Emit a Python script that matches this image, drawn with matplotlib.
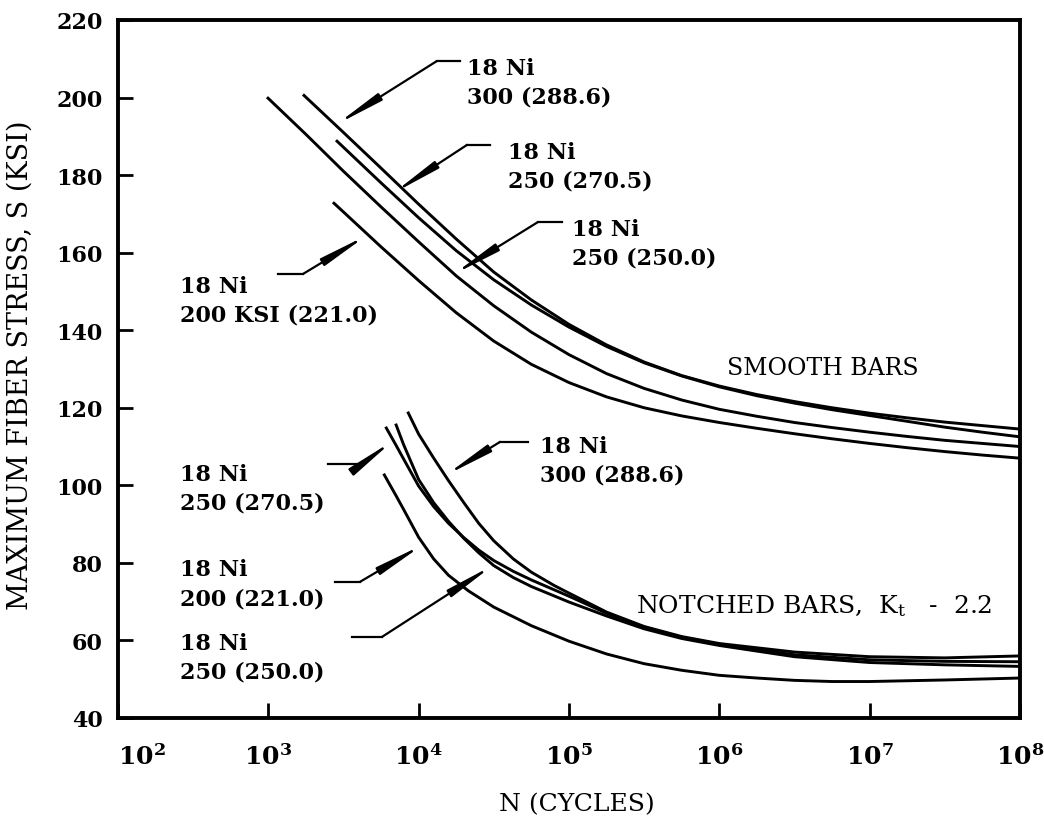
import matplotlib
matplotlib.use('Agg')
import matplotlib.pyplot as plt
from matplotlib.ticker import NullLocator

plt.rcParams['font.family'] = 'DejaVu Serif'
plt.rcParams['mathtext.fontset'] = 'dejavuserif'

# smooth bars, S-N curves (N cycles, S ksi)
n_s300 = [1.70e3, 3.16e3, 5.62e3, 1.0e4, 1.78e4, 3.16e4, 5.62e4, 1.0e5, 1.78e5, 3.16e5,
          5.62e5, 1.0e6, 1.78e6, 3.16e6, 5.62e6, 1.0e7, 1.78e7, 3.16e7, 5.62e7, 1.0e8]
s_s300 = [200.8, 191.0, 181.8, 172.5, 163.5, 155.0, 147.8, 141.5, 136.2, 131.8,
          128.3, 125.6, 123.4, 121.6, 120.0, 118.6, 117.4, 116.3, 115.4, 114.5]

n_s270 = [2.82e3, 5.62e3, 1.0e4, 1.78e4, 3.16e4, 5.62e4, 1.0e5, 1.78e5, 3.16e5, 5.62e5,
          1.0e6, 1.78e6, 3.16e6, 5.62e6, 1.0e7, 1.78e7, 3.16e7, 5.62e7, 1.0e8]
s_s270 = [189.0, 178.0, 169.0, 160.5, 153.0, 146.5, 140.8, 135.8, 131.6, 128.2,
          125.4, 123.1, 121.2, 119.5, 118.0, 116.5, 115.0, 113.7, 112.5]

n_s250 = [9.8e2, 1.78e3, 3.16e3, 5.62e3, 1.0e4, 1.78e4, 3.16e4, 5.62e4, 1.0e5, 1.78e5, 3.16e5,
          5.62e5, 1.0e6, 1.78e6, 3.16e6, 5.62e6, 1.0e7, 1.78e7, 3.16e7, 5.62e7, 1.0e8]
s_s250 = [200.1, 190.5, 181.0, 171.8, 162.8, 154.0, 146.3, 139.5, 133.7, 128.8, 125.0,
          122.0, 119.6, 117.8, 116.2, 114.9, 113.7, 112.6, 111.6, 110.8, 110.0]

n_s200 = [2.69e3, 3.16e3, 5.62e3, 1.0e4, 1.78e4, 3.16e4, 5.62e4, 1.0e5, 1.78e5, 3.16e5,
          5.62e5, 1.0e6, 1.78e6, 3.16e6, 5.62e6, 1.0e7, 1.78e7, 3.16e7, 5.62e7, 1.0e8]
s_s200 = [173.0, 170.5, 161.5, 152.8, 144.5, 137.2, 131.2, 126.5, 122.8, 120.0,
          117.9, 116.2, 114.7, 113.3, 112.0, 110.8, 109.7, 108.7, 107.8, 107.0]

# notched bars
n_n300 = [8.45e3, 1.0e4, 1.26e4, 1.58e4, 2.0e4, 2.51e4, 3.16e4, 4.27e4, 5.62e4, 7.94e4,
          1.0e5, 1.78e5, 3.16e5, 5.62e5, 1.0e6, 3.16e6, 1.0e7, 3.16e7, 1.0e8]
s_n300 = [119.0, 113.2, 107.0, 101.2, 95.5, 90.2, 85.7, 81.0, 77.6, 74.2,
          72.2, 67.3, 63.6, 61.0, 59.2, 57.0, 55.8, 55.5, 56.0]

n_n270 = [6.03e3, 7.08e3, 7.94e3, 1.0e4, 1.26e4, 1.58e4, 2.0e4, 2.51e4, 3.16e4, 4.27e4,
          5.62e4, 1.0e5, 1.78e5, 3.16e5, 5.62e5, 1.0e6, 3.16e6, 1.0e7, 3.16e7, 1.0e8]
s_n270 = [115.1, 110.3, 106.8, 99.8, 94.5, 90.2, 86.5, 83.3, 80.6, 77.8,
          75.6, 71.4, 67.0, 63.4, 60.8, 59.0, 56.3, 55.0, 54.6, 54.5]

n_n250 = [7.03e3, 7.94e3, 1.0e4, 1.26e4, 1.58e4, 2.0e4, 2.51e4, 3.16e4, 4.27e4, 5.62e4,
          1.0e5, 1.78e5, 3.16e5, 5.62e5, 1.0e6, 3.16e6, 1.0e7, 3.16e7, 1.0e8]
s_n250 = [115.9, 110.5, 101.5, 95.5, 90.7, 86.3, 82.6, 79.3, 76.2, 73.9,
          69.9, 66.3, 63.0, 60.5, 58.7, 55.8, 54.3, 53.7, 53.3]

n_n200 = [5.85e3, 7.08e3, 7.94e3, 1.0e4, 1.26e4, 1.58e4, 2.14e4, 3.16e4, 5.62e4, 1.0e5,
          1.78e5, 3.16e5, 5.62e5, 1.0e6, 1.78e6, 3.16e6, 5.62e6, 1.0e7, 3.16e7, 1.0e8]
s_n200 = [103.0, 97.3, 93.8, 86.6, 81.0, 76.8, 72.8, 68.6, 63.8, 59.8,
          56.5, 54.0, 52.3, 51.0, 50.3, 49.7, 49.4, 49.4, 49.8, 50.3]

x_ticks = [1e2, 1e3, 1e4, 1e5, 1e6, 1e7, 1e8]
x_labels = [r'$\mathbf{10^{2}}$', r'$\mathbf{10^{3}}$', r'$\mathbf{10^{4}}$', r'$\mathbf{10^{5}}$',
            r'$\mathbf{10^{6}}$', r'$\mathbf{10^{7}}$', r'$\mathbf{10^{8}}$']
y_ticks = [40, 60, 80, 100, 120, 140, 160, 180, 200, 220]

# label text, text position, leader start, elbow, arrow tip
notes = [
    ('18 Ni\n300 (288.6)', (2.1e4, 204.0), (1.88e4, 209.4), (1.32e4, 209.4), (2.82e3, 193.0)),
    ('18 Ni\n250 (270.5)', (3.94e4, 182.3), (2.99e4, 187.8), (2.1e4, 187.8), (6.76e3, 175.3)),
    ('18 Ni\n250 (250.0)', (1.05e5, 162.5), (9.0e4, 167.9), (6.22e4, 167.9), (1.69e4, 154.3)),
    ('18 Ni\n200 KSI (221.0)', (2.59e2, 147.7), (1.16e3, 154.5), (1.70e3, 154.5), (4.54e3, 164.5)),
    ('18 Ni\n250 (270.5)', (2.59e2, 99.3), (2.49e3, 105.5), (4.2e3, 105.5), (6.76e3, 111.5)),
    ('18 Ni\n200 (221.0)', (2.59e2, 74.6), (2.78e3, 75.1), (4.07e3, 75.1), (1.07e4, 84.7)),
    ('18 Ni\n250 (250.0)', (2.59e2, 55.7), (3.61e3, 60.9), (5.7e3, 60.9), (3.13e4, 79.4)),
    ('18 Ni\n300 (288.6)', (6.43e4, 106.4), (5.35e4, 111.2), (3.48e4, 111.2), (1.5e4, 102.5)),
]

fig = plt.figure(figsize=(10.44, 8.2), dpi=100)
ax = fig.add_axes([0.113, 0.1232, 0.864, 0.8512])

for n, s in [(n_s300, s_s300), (n_s270, s_s270), (n_s250, s_s250), (n_s200, s_s200),
             (n_n300, s_n300), (n_n270, s_n270), (n_n250, s_n250), (n_n200, s_n200)]:
    ax.plot(n, s, color='black', lw=2.1, solid_capstyle='butt')

for text, tpos, hstart, elbow, tip in notes:
    ax.text(tpos[0], tpos[1], text, fontsize=16, fontweight='bold', ha='left', va='center',
            linespacing=1.4)
    ax.plot([hstart[0], elbow[0]], [hstart[1], elbow[1]], color='black', lw=1.6)
    ax.annotate('', xy=tip, xytext=elbow,
                arrowprops=dict(arrowstyle='-|>,head_length=2.0,head_width=0.17',
                                mutation_scale=14, color='black', lw=1.6,
                                shrinkA=0, shrinkB=0))

ax.text(1.12e6, 130.5, 'SMOOTH BARS', fontsize=17, ha='left', va='center')
ax.text(2.79e5, 69.1, r'NOTCHED BARS,  K$_{\mathrm{t}}$   -  2.2', fontsize=18,
        ha='left', va='center')

ax.set_xscale('log')
ax.set_xlim(1e2, 1e8)
ax.set_ylim(40, 220)
ax.set_xticks(x_ticks)
ax.set_xticklabels(x_labels)
ax.xaxis.set_minor_locator(NullLocator())
ax.set_yticks(y_ticks)
ax.tick_params(axis='both', direction='in', length=11, width=2)
ax.tick_params(axis='x', pad=18, labelsize=18)
ax.tick_params(axis='y', pad=11, labelsize=16)
for lab in ax.get_yticklabels():
    lab.set_fontweight('bold')
ax.get_xticklabels()[0].set_horizontalalignment('left')
for sp in ax.spines.values():
    sp.set_linewidth(2.8)

ax.set_xlabel('N (CYCLES)', fontsize=18)
ax.set_ylabel('MAXIMUM FIBER STRESS, S (KSI)', fontsize=19.5)
ax.xaxis.set_label_coords(0.509, -0.107)
ax.yaxis.set_label_coords(-0.093, 0.507)

fig.savefig('out.png', dpi=100)
